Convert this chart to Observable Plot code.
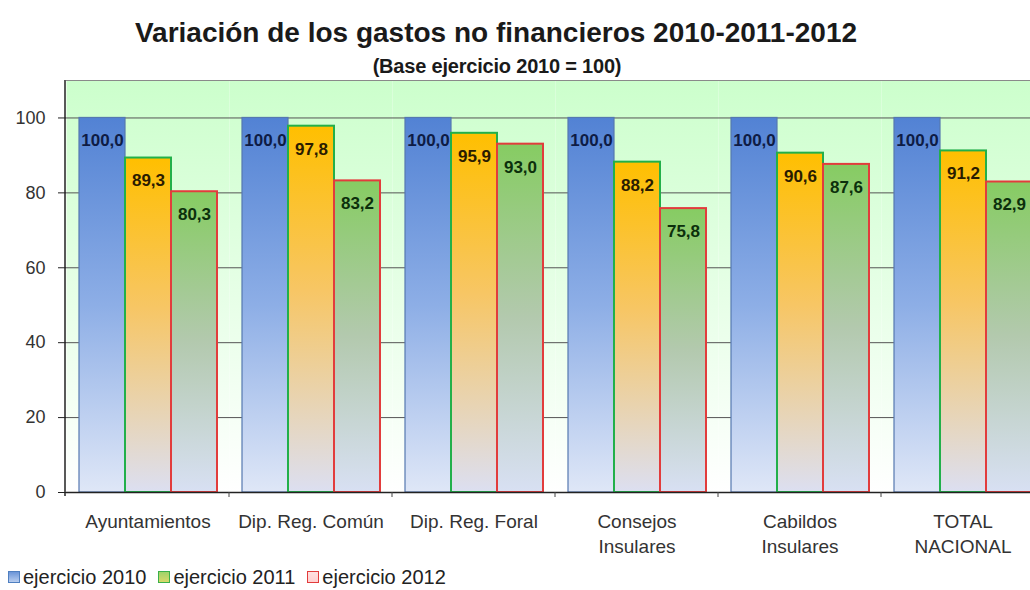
<!DOCTYPE html>
<html>
<head>
<meta charset="utf-8">
<script src="https://cdn.jsdelivr.net/npm/d3@7"></script>
<script src="https://cdn.jsdelivr.net/npm/@observablehq/plot@0.6"></script>
<style>
  html, body { margin: 0; padding: 0; background: #fff; }
  body { width: 1030px; height: 590px; overflow: hidden; position: relative;
         font-family: "Liberation Sans", Arial, sans-serif; }
  #title { position: absolute; left: 0; top: 18px; width: 992px; text-align: center;
           font-weight: bold; font-size: 28px; line-height: 30px; color: #1a1a1a; }
  #subtitle { position: absolute; left: 0; top: 56px; width: 994px; text-align: center;
              font-weight: bold; font-size: 20px; line-height: 20px; color: #1a1a1a; letter-spacing: -0.2px; }
  #chart { position: absolute; left: 0; top: 70px; width: 1045px; }
  #chart svg { max-width: none !important; }
  #legend { position: absolute; left: 8px; top: 566px; display: flex; align-items: center;
            font-size: 20px; color: #222; line-height: 22px; }
  .item { display: flex; align-items: center; margin-right: 12px; }
  .sw { width: 12px; height: 12px; margin-right: 3px; box-sizing: border-box; border: 1.5px solid; }
</style>
</head>
<body>
<div id="title">Variación de los gastos no financieros 2010-2011-2012</div>
<div id="subtitle">(Base ejercicio 2010 = 100)</div>
<div id="chart"></div>
<div id="legend"></div>
<script>
// ---- data ----
const categories = ["Ayuntamientos", "Dip. Reg. Común", "Dip. Reg. Foral", "Consejos\nInsulares", "Cabildos\nInsulares", "TOTAL\nNACIONAL"];
const years = ["ejercicio 2010", "ejercicio 2011", "ejercicio 2012"];
const v2010 = [100.0, 100.0, 100.0, 100.0, 100.0, 100.0];
const v2011 = [89.3, 97.8, 95.9, 88.2, 90.6, 91.2];
const v2012 = [80.3, 83.2, 93.0, 75.8, 87.6, 82.9];
const yTicks = [0, 20, 40, 60, 80, 100];

// ---- styles ----
const seriesStyle = {
  "ejercicio 2010": {fill: "url(#g2010)", stroke: "#5578b0", text: "#0e1c45", sw: 1.2},
  "ejercicio 2011": {fill: "url(#g2011)", stroke: "#22b04a", text: "#2a1c00", sw: 2},
  "ejercicio 2012": {fill: "url(#g2012)", stroke: "#e23c3c", text: "#0c300c", sw: 2}
};

const values = [v2010, v2011, v2012];
const rows = [];
years.forEach((yr, j) => categories.forEach((c, i) => rows.push({cat: c, year: yr, value: values[j][i]})));

const fmt = v => v.toFixed(1).replace(".", ",");

const marks = [
  Plot.frame({fill: "url(#gbg)", stroke: null}),
  Plot.ruleY(yTicks.filter(d => d > 0), {stroke: "#555", strokeWidth: 1}),
  Plot.ruleY([110], {stroke: "#8a8a8a", strokeWidth: 1.2})
];
years.forEach(yr => {
  const s = seriesStyle[yr];
  marks.push(Plot.barY(rows.filter(d => d.year === yr), {
    fx: "cat", x: "year", y: "value", fill: s.fill, stroke: s.stroke, strokeWidth: s.sw
  }));
});
marks.push(Plot.ruleY([0], {stroke: "#222", strokeWidth: 1.5}));
years.forEach(yr => {
  const s = seriesStyle[yr];
  marks.push(Plot.text(rows.filter(d => d.year === yr), {
    fx: "cat", x: "year", y: "value", text: d => fmt(d.value), dy: 23,
    fill: s.text, fontSize: 17, fontWeight: "bold",
    fontFamily: "'Liberation Sans', Arial, sans-serif"
  }));
});
marks.push(Plot.axisFx({anchor: "bottom", tickSize: 0, tickPadding: 17, fontSize: 19, lineHeight: 1.35, label: null, fill: "#333"}));
marks.push(Plot.axisY({ticks: yTicks, tickSize: 8, tickPadding: 13, fontSize: 18, label: null, fill: "#333", stroke: "#222"}));

const chart = Plot.plot({
  width: 1045,
  height: 485,
  marginTop: 10,
  marginBottom: 63,
  marginLeft: 65,
  marginRight: 0,
  style: {fontFamily: "'Liberation Sans', Arial, sans-serif", fontSize: "18px", color: "#333", background: "transparent", overflow: "visible", maxWidth: "none"},
  fx: {domain: categories, padding: 0, label: null},
  x: {domain: years, paddingInner: 0, paddingOuter: 0.25, axis: null},
  y: {domain: [0, 110], label: null},
  marks
});

// gradients
const svg = d3.select(chart);
const defs = svg.insert("defs", ":first-child");
function grad(id, stops) {
  const g = defs.append("linearGradient").attr("id", id)
    .attr("x1", 0).attr("y1", 0).attr("x2", 0).attr("y2", 1);
  stops.forEach(([o, c]) => g.append("stop").attr("offset", o).attr("stop-color", c));
}
grad("g2010", [[0, "#5282d4"], [0.5, "#8daee6"], [1, "#dfe7f7"]]);
grad("g2011", [[0, "#ffbf00"], [0.45, "#f7c665"], [1, "#dcdff1"]]);
grad("g2012", [[0, "#86cc62"], [0.5, "#b3c9ae"], [1, "#d8e0f3"]]);
grad("gbg", [[0, "#ccffcc"], [0.45, "#e3ffe3"], [1, "#ffffff"]]);

// left axis line
const yS = chart.scale("y");
const fxS = chart.scale("fx");
svg.append("line")
  .attr("x1", 65).attr("x2", 65)
  .attr("y1", yS.apply(110)).attr("y2", yS.apply(0) + 4)
  .attr("stroke", "#222").attr("stroke-width", 1.5);
// category boundary ticks
categories.forEach(c => {
  const x = fxS.apply(c) + fxS.bandwidth;
  svg.append("line").attr("x1", x).attr("x2", x)
    .attr("y1", yS.apply(0)).attr("y2", yS.apply(0) + 5)
    .attr("stroke", "#444").attr("stroke-width", 1);
});

document.getElementById("chart").appendChild(chart);

// legend
const lg = d3.select("#legend");
const swFill = {
  "ejercicio 2010": "linear-gradient(#6b95d8, #b8cdef)",
  "ejercicio 2011": "linear-gradient(#9fd36a, #d8d86a)",
  "ejercicio 2012": "linear-gradient(#ffe0e0, #ffd0d0)"
};
const swBorder = {"ejercicio 2010": "#4f7fc0", "ejercicio 2011": "#3bb04a", "ejercicio 2012": "#e23c3c"};
years.forEach(yr => {
  const it = lg.append("div").attr("class", "item");
  it.append("div").attr("class", "sw").style("background", swFill[yr]).style("border-color", swBorder[yr]);
  it.append("span").text(yr);
});
</script>
</body>
</html>
